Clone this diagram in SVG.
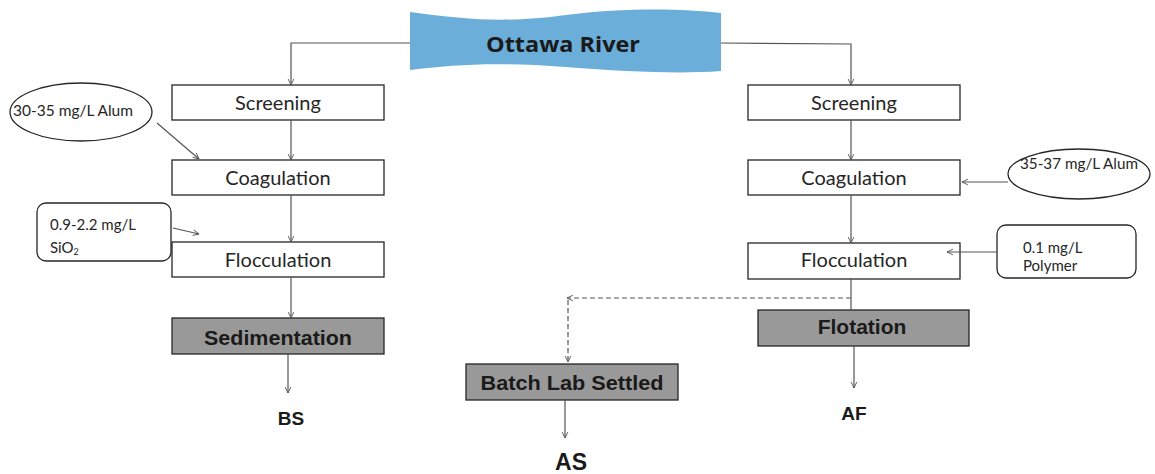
<svg xmlns="http://www.w3.org/2000/svg" width="1155" height="474" viewBox="0 0 1155 474">
<style>
.box{fill:#ffffff;stroke:#262626;stroke-width:1.3}
.gbox{fill:#999999;stroke:#262626;stroke-width:1.3}
.t{font-family:Lato,"Open Sans","Liberation Sans",sans-serif;fill:#262626;text-anchor:middle}
.bt{font-family:"Liberation Sans",Arial,sans-serif;font-weight:bold;fill:#1a1a1a;text-anchor:middle}
.st{font-family:Lato,"Open Sans","Liberation Sans",sans-serif;fill:#262626}
.c{fill:none;stroke:#555555;stroke-width:1.2}
.d{fill:none;stroke:#555555;stroke-width:1.2;stroke-dasharray:5 3}
</style>
<defs>
<marker id="arr" viewBox="0 0 10 10" refX="9.5" refY="5" markerWidth="7" markerHeight="9" markerUnits="userSpaceOnUse" orient="auto">
<path d="M1,1 L9.5,5 L1,9" fill="none" stroke="#555555" stroke-width="1.3"/>
</marker>
</defs>
<rect width="1155" height="474" fill="#ffffff"/>

<g id="ottawa-river">
<path d="M410,12 C470,20 505,23 566,15 C620,8 680,8 721,13 L721,71 C680,74 630,72 566,67 C500,62 455,64 410,70 Z" fill="#6baed9"/>
<text x="563" y="52" font-family="'Open Sans',Lato,'Liberation Sans',sans-serif" font-weight="bold" font-size="22" fill="#1a1a1a" text-anchor="middle" textLength="154" lengthAdjust="spacingAndGlyphs">Ottawa River</text>
</g>

<g id="screening-left">
<rect class="box" x="172" y="85" width="212" height="35"/>
<text class="t" x="278" y="110" font-size="20">Screening</text>
</g>
<g id="coagulation-left">
<rect class="box" x="172" y="160" width="212" height="35"/>
<text class="t" x="278" y="185" font-size="20">Coagulation</text>
</g>
<g id="flocculation-left">
<rect class="box" x="172" y="242" width="212" height="35"/>
<text class="t" x="278" y="267" font-size="20">Flocculation</text>
</g>
<g id="sedimentation">
<rect class="gbox" x="172" y="318" width="212" height="36"/>
<text class="bt" x="278" y="345" font-size="21" textLength="148" lengthAdjust="spacingAndGlyphs">Sedimentation</text>
</g>
<g id="bs">
<text class="bt" x="291" y="425" font-size="19">BS</text>
</g>

<g id="screening-right">
<rect class="box" x="748" y="85" width="212" height="35"/>
<text class="t" x="854" y="110" font-size="20">Screening</text>
</g>
<g id="coagulation-right">
<rect class="box" x="748" y="160" width="212" height="35"/>
<text class="t" x="854" y="185" font-size="20">Coagulation</text>
</g>
<g id="flocculation-right">
<rect class="box" x="748" y="243" width="212" height="36"/>
<text class="t" x="854" y="267" font-size="20">Flocculation</text>
</g>
<g id="flotation">
<rect class="gbox" x="758" y="310" width="211" height="36"/>
<text class="bt" x="862" y="334" font-size="21">Flotation</text>
</g>
<g id="af">
<text class="bt" x="854" y="420" font-size="19">AF</text>
</g>

<g id="batch-lab-settled">
<rect class="gbox" x="466" y="364" width="212" height="36"/>
<text class="bt" x="572" y="390" font-size="20" textLength="183" lengthAdjust="spacingAndGlyphs">Batch Lab Settled</text>
</g>
<g id="as">
<text class="bt" x="571" y="470" font-size="23">AS</text>
</g>

<g id="alum-left">
<ellipse cx="81" cy="112" rx="71" ry="29" fill="#ffffff" stroke="#262626" stroke-width="1.3"/>
<text class="st" x="13" y="116" font-size="16" textLength="120" lengthAdjust="spacingAndGlyphs">30-35 mg/L Alum</text>
</g>
<g id="sio2">
<rect x="37" y="203" width="134" height="58" rx="9" fill="#ffffff" stroke="#262626" stroke-width="1.3"/>
<text class="st" x="50" y="230" font-size="15">0.9-2.2 mg/L</text>
<text class="st" x="50" y="253" font-size="15">SiO<tspan font-size="9" dy="2">2</tspan></text>
</g>
<g id="alum-right">
<ellipse cx="1079" cy="174" rx="71" ry="25" fill="#ffffff" stroke="#262626" stroke-width="1.3"/>
<text class="st" x="1020" y="169" font-size="15" textLength="118" lengthAdjust="spacingAndGlyphs">35-37 mg/L Alum</text>
</g>
<g id="polymer">
<rect x="997" y="225" width="139" height="53" rx="9" fill="#ffffff" stroke="#262626" stroke-width="1.3"/>
<text class="st" x="1023" y="253" font-size="15">0.1 mg/L</text>
<text class="st" x="1023" y="271" font-size="15">Polymer</text>
</g>

<g id="connectors">
<polyline class="c" points="410,43 291,43 291,85" marker-end="url(#arr)"/>
<polyline class="c" points="721,43 851,44 851,85" marker-end="url(#arr)"/>
<line class="c" x1="291" y1="120" x2="291" y2="160" marker-end="url(#arr)"/>
<line class="c" x1="291" y1="195" x2="291" y2="242" marker-end="url(#arr)"/>
<line class="c" x1="291" y1="277" x2="291" y2="318" marker-end="url(#arr)"/>
<line class="c" x1="288" y1="354" x2="288" y2="393" marker-end="url(#arr)"/>
<line class="c" x1="851" y1="120" x2="851" y2="160" marker-end="url(#arr)"/>
<line class="c" x1="851" y1="195" x2="851" y2="243" marker-end="url(#arr)"/>
<line class="c" x1="851" y1="279" x2="851" y2="310"/>
<line class="c" x1="854" y1="346" x2="854" y2="388" marker-end="url(#arr)"/>
<line class="d" x1="851" y1="298" x2="567" y2="298" marker-end="url(#arr)"/>
<line class="d" x1="568" y1="300" x2="568" y2="362" marker-end="url(#arr)"/>
<line class="c" x1="565" y1="400" x2="565" y2="438" marker-end="url(#arr)"/>
<line class="c" x1="157" y1="123" x2="199" y2="159" marker-end="url(#arr)"/>
<line class="c" x1="173" y1="228" x2="199" y2="234" marker-end="url(#arr)"/>
<line class="c" x1="1008" y1="182" x2="962" y2="182" marker-end="url(#arr)"/>
<line class="c" x1="997" y1="252" x2="947" y2="252" marker-end="url(#arr)"/>
</g>
</svg>
